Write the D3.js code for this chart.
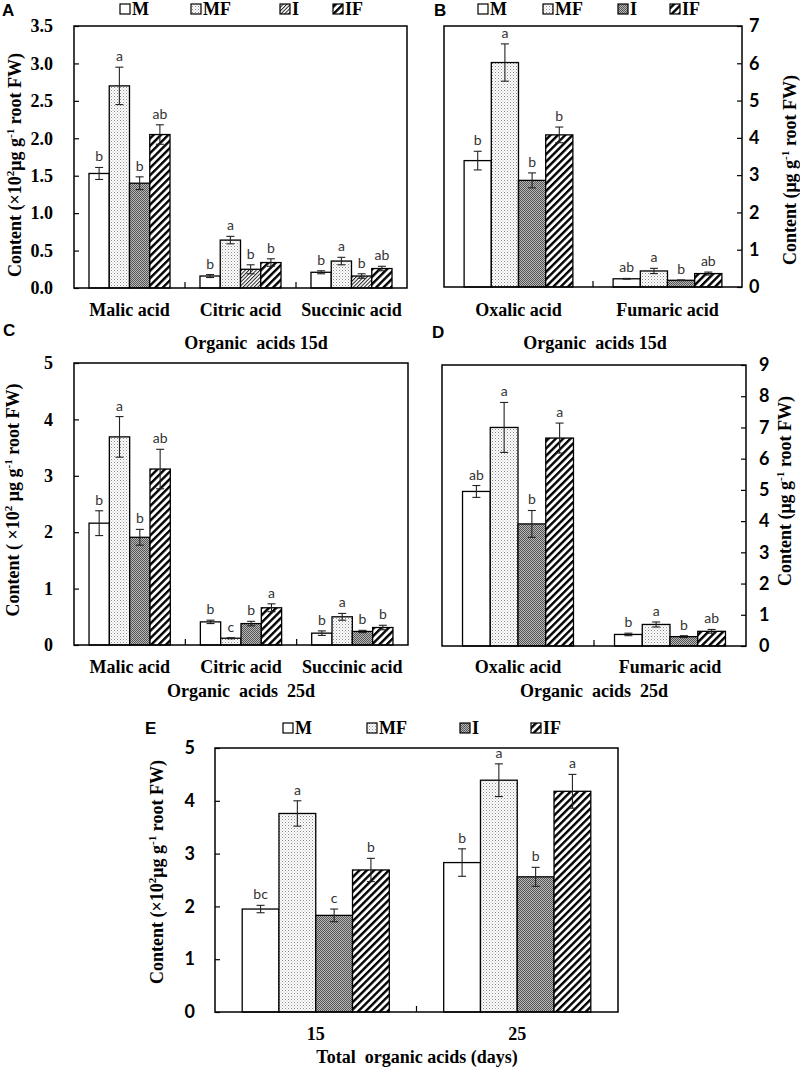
<!DOCTYPE html>
<html>
<head>
<meta charset="utf-8">
<script src="https://cdn.jsdelivr.net/npm/d3@7"></script>
<style>
  body { margin: 0; background: #fff; }
  svg { display: block; }
</style>
</head>
<body>
<div id="chart"></div>
<script>
// ---- data ----
const treatments = ["M", "MF", "I", "IF"];
const acidsMajor = ["Malic acid", "Citric acid", "Succinic acid"];
const acidsMinor = ["Oxalic acid", "Fumaric acid"];
const days = ["15", "25"];

const valuesA = [[1.53, 2.70, 1.40, 2.05], [0.16, 0.64, 0.25, 0.34], [0.21, 0.36, 0.16, 0.26]];
const errorsA = [[0.08, 0.25, 0.085, 0.13], [0.02, 0.05, 0.06, 0.05], [0.02, 0.05, 0.03, 0.03]];
const lettersA = [["b", "a", "b", "ab"], ["b", "a", "b", "b"], ["b", "a", "b", "ab"]];

const valuesB = [[3.39, 6.02, 2.86, 4.08], [0.22, 0.43, 0.18, 0.36]];
const errorsB = [[0.25, 0.50, 0.20, 0.21], [0.01, 0.07, 0.01, 0.04]];
const lettersB = [["b", "a", "b", "b"], ["ab", "a", "b", "ab"]];

const valuesC = [[2.16, 3.69, 1.91, 3.12], [0.41, 0.12, 0.38, 0.66], [0.21, 0.50, 0.24, 0.31]];
const errorsC = [[0.22, 0.36, 0.14, 0.35], [0.03, 0.01, 0.04, 0.07], [0.04, 0.06, 0.02, 0.04]];
const lettersC = [["b", "a", "b", "ab"], ["b", "c", "b", "a"], ["b", "a", "b", "b"]];

const valuesD = [[4.95, 7.00, 3.91, 6.66], [0.37, 0.69, 0.30, 0.47]];
const errorsD = [[0.19, 0.80, 0.43, 0.48], [0.04, 0.08, 0.03, 0.06]];
const lettersD = [["ab", "a", "b", "a"], ["b", "a", "b", "ab"]];

const valuesE = [[1.95, 3.76, 1.83, 2.69], [2.83, 4.39, 2.56, 4.18]];
const errorsE = [[0.07, 0.24, 0.12, 0.22], [0.26, 0.31, 0.18, 0.32]];
const lettersE = [["bc", "a", "c", "b"], ["b", "a", "b", "a"]];

const ticksA = [0, 0.5, 1, 1.5, 2, 2.5, 3, 3.5];
const ticksB = [0, 1, 2, 3, 4, 5, 6, 7];
const ticksC = [0, 1, 2, 3, 4, 5];
const ticksD = [0, 1, 2, 3, 4, 5, 6, 7, 8, 9];
const ticksE = [0, 1, 2, 3, 4, 5];

// ---- fonts ----
const serif = "'Liberation Serif', 'Times New Roman', serif";
const sans = "Lato, 'Open Sans', sans-serif";
const arial = "'Liberation Sans', Arial, sans-serif";

const svg = d3.select("#chart").append("svg")
    .attr("width", 800)
    .attr("height", 1071);

// fill patterns
const defs = svg.append("defs");

const dots = defs.append("pattern").attr("id", "dots")
    .attr("patternUnits", "userSpaceOnUse").attr("width", 3).attr("height", 3);
dots.append("rect").attr("width", 3).attr("height", 3).attr("fill", "#fff");
dots.append("rect").attr("x", 0).attr("y", 0).attr("width", 1).attr("height", 1).attr("fill", "#8a8a8a");
dots.append("rect").attr("x", 1.5).attr("y", 1.5).attr("width", 1).attr("height", 1).attr("fill", "#b0b0b0");

const checker = defs.append("pattern").attr("id", "checker")
    .attr("patternUnits", "userSpaceOnUse").attr("width", 2).attr("height", 2);
checker.append("rect").attr("width", 2).attr("height", 2).attr("fill", "#b8b8b8");
checker.append("rect").attr("width", 1).attr("height", 1).attr("fill", "#555");
checker.append("rect").attr("x", 1).attr("y", 1).attr("width", 1).attr("height", 1).attr("fill", "#555");

const stripes = defs.append("pattern").attr("id", "stripes")
    .attr("patternUnits", "userSpaceOnUse").attr("width", 5.2).attr("height", 5.2)
    .attr("patternTransform", "rotate(45)");
stripes.append("rect").attr("width", 5.2).attr("height", 5.2).attr("fill", "#fff");
stripes.append("rect").attr("width", 2.4).attr("height", 5.2).attr("fill", "#000");

const hatch = defs.append("pattern").attr("id", "hatch")
    .attr("patternUnits", "userSpaceOnUse").attr("width", 2.6).attr("height", 2.6)
    .attr("patternTransform", "rotate(45)");
hatch.append("rect").attr("width", 2.6).attr("height", 2.6).attr("fill", "#fff");
hatch.append("rect").attr("width", 1).attr("height", 2.6).attr("fill", "#222");

const fills = { M: "#fff", MF: "url(#dots)", I: "url(#checker)", IF: "url(#stripes)" };

// text with superscripts: parts = [[string, isSup], ...]
function richText(sel, parts, size) {
    let shifted = false;
    parts.forEach(([s, sup]) => {
        const t = sel.append("tspan").text(s);
        if (sup && !shifted) {
            t.attr("font-size", size * 0.62).attr("dy", -size * 0.38);
            shifted = true;
        } else if (!sup && shifted) {
            t.attr("dy", size * 0.38);
            shifted = false;
        } else if (sup) {
            t.attr("font-size", size * 0.62);
        }
    });
}

function legend(items, y, hatchI) {
    const g = svg.append("g").attr("font-family", serif).attr("font-weight", "bold").attr("font-size", 18);
    treatments.forEach((t, i) => {
        let f = fills[t];
        if (t === "I" && hatchI) f = "url(#hatch)";
        g.append("rect").attr("x", items[i]).attr("y", y - 11).attr("width", 10).attr("height", 10)
            .attr("fill", f).attr("stroke", "#000").attr("stroke-width", 1.2);
        g.append("text").attr("x", items[i] + 12).attr("y", y).text(t);
    });
}

function drawPanel(p) {
    const y = d3.scaleLinear().domain([0, p.ymax]).range([p.y1, p.y0]);
    const x = d3.scaleBand().domain(p.cats).range([p.x0, p.x1]).padding(0);
    const bw = x.bandwidth();
    const xs = d3.scaleBand().domain(treatments).range([bw * 0.135, bw * 0.865]).padding(0);

    const rows = [];
    p.cats.forEach((c, ci) => treatments.forEach((t, ti) => {
        rows.push({ c, ci, t, v: p.values[ci][ti], e: p.errors[ci][ti], l: p.letters[ci][ti] });
    }));

    const g = svg.append("g");

    // axis ticks + labels
    const axis = (p.side === "left" ? d3.axisLeft(y) : d3.axisRight(y))
        .tickValues(p.ticks).tickSizeInner(-5).tickSizeOuter(0)
        .tickPadding(p.labelGap).tickFormat(p.fmt);
    const ax = g.append("g")
        .attr("transform", `translate(${p.side === "left" ? p.x0 : p.x1},0)`)
        .call(axis);
    ax.select(".domain").remove();
    ax.selectAll(".tick line").attr("stroke", "#000").attr("stroke-width", 1.2);
    ax.selectAll(".tick text").attr("fill", "#000")
        .attr("font-family", p.tickFont).attr("font-weight", "bold").attr("font-size", 18);

    // bars
    g.selectAll("rect.bar").data(rows).enter().append("rect")
        .attr("class", "bar")
        .attr("x", d => x(d.c) + xs(d.t))
        .attr("width", xs.bandwidth())
        .attr("y", d => y(d.v))
        .attr("height", d => y(0) - y(d.v))
        .attr("fill", d => (p.hatchMinorI && d.t === "I" && d.ci > 0) ? "url(#hatch)" : fills[d.t])
        .attr("stroke", "#000").attr("stroke-width", 1.3);

    // error bars
    const cx = d => x(d.c) + xs(d.t) + xs.bandwidth() / 2;
    const eb = g.selectAll("g.err").data(rows).enter().append("g").attr("class", "err")
        .attr("stroke", "#222").attr("stroke-width", 1.1);
    eb.append("line").attr("x1", cx).attr("x2", cx)
        .attr("y1", d => y(d.v + d.e)).attr("y2", d => y(Math.max(0, d.v - d.e)));
    eb.append("line").attr("x1", d => cx(d) - 4).attr("x2", d => cx(d) + 4)
        .attr("y1", d => y(d.v + d.e)).attr("y2", d => y(d.v + d.e));
    eb.append("line").attr("x1", d => cx(d) - 4).attr("x2", d => cx(d) + 4)
        .attr("y1", d => y(Math.max(0, d.v - d.e))).attr("y2", d => y(Math.max(0, d.v - d.e)));

    // significance letters
    g.selectAll("text.sig").data(rows).enter().append("text")
        .attr("class", "sig")
        .attr("x", cx).attr("y", d => y(d.v + d.e) - 6)
        .attr("text-anchor", "middle")
        .attr("font-family", sans).attr("font-size", 14).attr("fill", "#333")
        .text(d => d.l);

    // frame
    g.append("rect").attr("x", p.x0).attr("y", p.y0)
        .attr("width", p.x1 - p.x0).attr("height", p.y1 - p.y0)
        .attr("fill", "none").attr("stroke", "#000").attr("stroke-width", 1.5);

    // category separators
    g.selectAll("line.sep").data(p.cats.slice(1)).enter().append("line")
        .attr("x1", c => x(c)).attr("x2", c => x(c))
        .attr("y1", p.y1).attr("y2", p.y1 - 6)
        .attr("stroke", "#000").attr("stroke-width", 1.2);

    // category labels
    g.selectAll("text.cat").data(p.cats).enter().append("text")
        .attr("x", c => x(c) + bw / 2).attr("y", p.catY)
        .attr("text-anchor", "middle")
        .attr("font-family", serif).attr("font-weight", "bold").attr("font-size", 18)
        .text(c => c);

    // axis title
    const yt = g.append("text")
        .attr("transform", `translate(${p.titleX},${p.titleY}) rotate(-90)`)
        .attr("text-anchor", "middle")
        .attr("font-family", serif).attr("font-weight", "bold").attr("font-size", p.titleSize);
    richText(yt, p.yTitle, p.titleSize);

    // sub-caption
    g.append("text").attr("x", p.capX).attr("y", p.capY)
        .attr("text-anchor", "middle")
        .attr("font-family", serif).attr("font-weight", "bold").attr("font-size", 18)
        .attr("xml:space", "preserve")
        .text(p.caption);

    // panel letter
    g.append("text").attr("x", p.tagX).attr("y", p.tagY)
        .attr("font-family", arial).attr("font-weight", "bold").attr("font-size", 17)
        .text(p.tag);
}

const titleHundred = [["Content (×10", false], ["2", true], ["μg g", false], ["-1", true], [" root FW)", false]];
const titleHundredC = [["Content  ( ×10", false], ["2", true], [" μg g", false], ["-1", true], [" root FW)", false]];
const titlePlain = [["Content (μg g", false], ["-1", true], [" root FW)", false]];
const titlePlainD = [["Content  (μg g", false], ["-1", true], [" root FW)", false]];

drawPanel({
    tag: "A", tagX: 2, tagY: 16,
    cats: acidsMajor, values: valuesA, errors: errorsA, letters: lettersA,
    ticks: ticksA, ymax: 3.5, fmt: d3.format(".1f"),
    x0: 74, x1: 407, y0: 26, y1: 288, side: "left", labelGap: 21, tickFont: serif,
    catY: 316, caption: "Organic  acids 15d", capX: 256, capY: 349,
    yTitle: titleHundred, titleX: 21, titleY: 165, titleSize: 18,
    hatchMinorI: true
});
legend([120, 191, 280, 333], 15, true);

drawPanel({
    tag: "B", tagX: 434, tagY: 16,
    cats: acidsMinor, values: valuesB, errors: errorsB, letters: lettersB,
    ticks: ticksB, ymax: 7, fmt: d3.format("d"),
    x0: 444, x1: 742, y0: 26, y1: 287, side: "right", labelGap: 7, tickFont: sans,
    catY: 316, caption: "Organic  acids 15d", capX: 595, capY: 349,
    yTitle: titlePlain, titleX: 796, titleY: 170, titleSize: 18
});
legend([478, 543, 618, 670], 15, false);

drawPanel({
    tag: "C", tagX: 3, tagY: 336,
    cats: acidsMajor, values: valuesC, errors: errorsC, letters: lettersC,
    ticks: ticksC, ymax: 5, fmt: d3.format("d"),
    x0: 74, x1: 408, y0: 363, y1: 645, side: "left", labelGap: 21, tickFont: serif,
    catY: 673, caption: "Organic  acids  25d", capX: 241, capY: 697,
    yTitle: titleHundredC, titleX: 19, titleY: 500, titleSize: 18
});

drawPanel({
    tag: "D", tagX: 432, tagY: 338,
    cats: acidsMinor, values: valuesD, errors: errorsD, letters: lettersD,
    ticks: ticksD, ymax: 9, fmt: d3.format("d"),
    x0: 442, x1: 746, y0: 365, y1: 646, side: "right", labelGap: 13, tickFont: sans,
    catY: 673, caption: "Organic  acids  25d", capX: 594, capY: 697,
    yTitle: titlePlainD, titleX: 791, titleY: 491, titleSize: 18
});

drawPanel({
    tag: "E", tagX: 145, tagY: 734,
    cats: days, values: valuesE, errors: errorsE, letters: lettersE,
    ticks: ticksE, ymax: 5, fmt: d3.format("d"),
    x0: 215, x1: 618, y0: 748, y1: 1012, side: "left", labelGap: 20, tickFont: sans,
    catY: 1040, caption: "Total  organic acids (days)", capX: 417, capY: 1063,
    yTitle: titleHundred, titleX: 163, titleY: 872, titleSize: 18
});
legend([283, 367, 460, 531], 734, false);
</script>
</body>
</html>
